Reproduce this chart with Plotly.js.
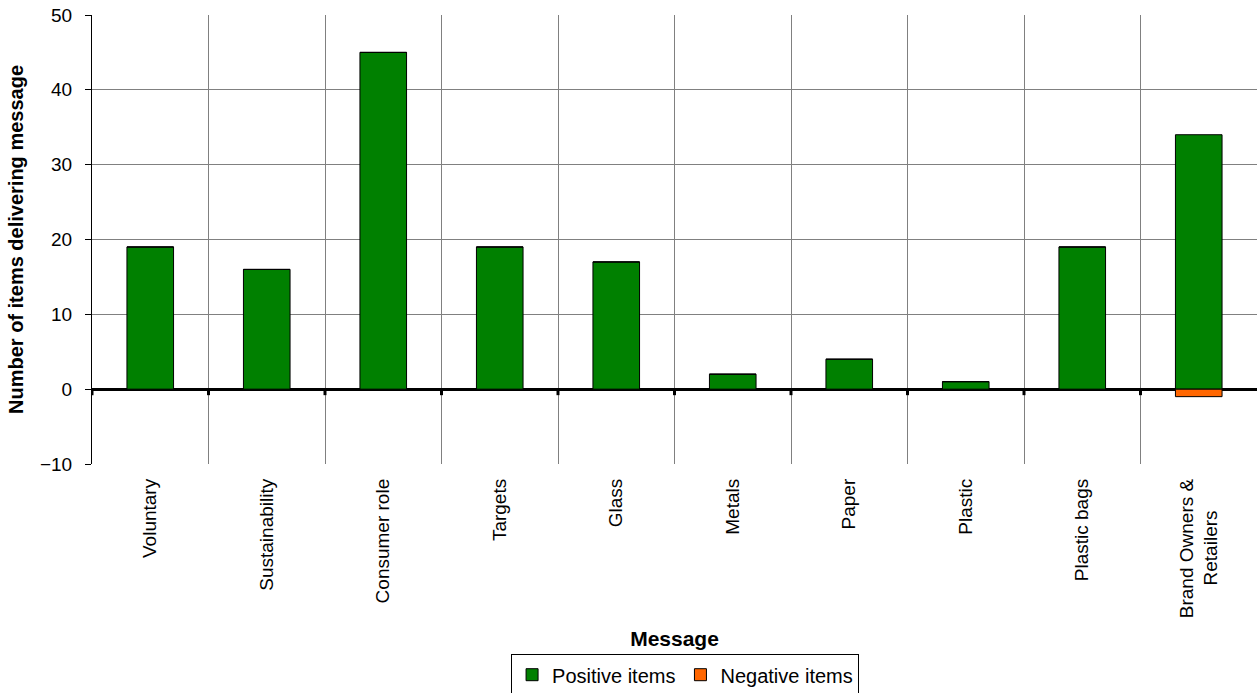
<!DOCTYPE html>
<html>
<head>
<meta charset="utf-8">
<script src="https://cdn.plot.ly/plotly-3.0.1.min.js"></script>
<style>
  html, body { margin: 0; padding: 0; background: #fff; }
  #chart { width: 1257px; height: 693px; }
</style>
</head>
<body>
<div id="chart"></div>
<script>
// Messages delivered, split into positive and negative items
const categories = [
  'Voluntary', 'Sustainability', 'Consumer role', 'Targets', 'Glass',
  'Metals', 'Paper', 'Plastic', 'Plastic bags',
  // trailing non-breaking spaces keep the short second line centred when rotated
  'Brand Owners &<br>Retailers\u00A0\u00A0\u00A0\u00A0\u00A0\u00A0'
];
const positiveItems = [19, 16, 45, 19, 17, 2, 4, 1, 19, 34];
const negativeItems = [0, 0, 0, 0, 0, 0, 0, 0, 0, -1];
const yTicks = [-10, 0, 10, 20, 30, 40, 50];

const font = 'Arial, "Liberation Sans", sans-serif';

const traces = [
  {
    type: 'bar', name: 'Positive items', x: categories, y: positiveItems,
    marker: { color: '#008000', line: { color: '#000', width: 1 } },
    width: 0.4, hoverinfo: 'x+y'
  },
  {
    type: 'bar', name: 'Negative items', x: categories, y: negativeItems,
    marker: { color: '#FF6600', line: { color: '#000', width: 1 } },
    width: 0.4, hoverinfo: 'x+y'
  }
];

// Small tick marks on the zero line at each category boundary
const boundaryTicks = categories.map((_, i) => ({
  type: 'line', xref: 'x', yref: 'y', ysizemode: 'pixel', yanchor: 0,
  x0: i - 0.5, x1: i - 0.5, y0: 0, y1: -6,
  line: { color: '#000', width: 3 }
}));

const layout = {
  width: 1257, height: 693,
  margin: { l: 92, r: 0, t: 15, b: 229 },
  paper_bgcolor: '#fff', plot_bgcolor: '#fff',
  barmode: 'relative',
  font: { family: font, size: 19, color: '#000' },
  showlegend: true,
  legend: {
    orientation: 'h',
    xref: 'container', yref: 'container',
    x: 0.545, xanchor: 'center', y: 0.056, yanchor: 'top',
    bordercolor: '#000', borderwidth: 1, bgcolor: '#fff',
    font: { family: font, size: 20, color: '#000' },
    itemwidth: 30, traceorder: 'normal'
  },
  xaxis: {
    type: 'category', tickson: 'boundaries', automargin: false,
    showgrid: true, gridcolor: '#808080', gridwidth: 1,
    ticks: '', tickangle: -90, ticklabelstandoff: 10,
    tickfont: { family: font, size: 19, color: '#000' },
    showline: false, zeroline: false,
    range: [-0.5, categories.length - 0.5],
    title: { text: 'Message', font: { family: font, size: 21, color: '#000', weight: 'bold' }, standoff: 14 }
  },
  yaxis: {
    range: [-10, 50], tickvals: yTicks, automargin: false,
    showgrid: true, gridcolor: '#808080', gridwidth: 1,
    zeroline: true, zerolinecolor: '#000', zerolinewidth: 3,
    showline: true, linecolor: '#000', linewidth: 1,
    ticks: 'outside', ticklen: 6, tickcolor: '#000', ticklabelstandoff: 9,
    tickfont: { family: font, size: 19, color: '#000' },
    title: { text: 'Number of items delivering message', font: { family: font, size: 20, color: '#000', weight: 'bold' }, standoff: 10 }
  },
  shapes: boundaryTicks
};

Plotly.newPlot('chart', traces, layout, { displayModeBar: false, staticPlot: true });
</script>
</body>
</html>
